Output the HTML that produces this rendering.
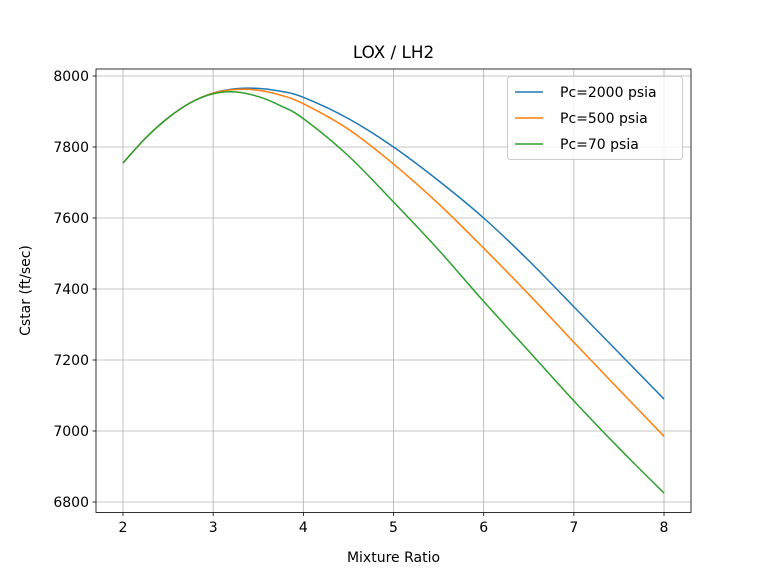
<!DOCTYPE html>
<html><head><style>body{margin:0;background:#fff}svg{display:block}text{font-family:"DejaVu Sans","Liberation Sans",sans-serif;fill:#000}</style></head>
<body>
<svg id="s" width="768" height="576" xmlns="http://www.w3.org/2000/svg">
<rect width="768" height="576" fill="#fff"/>
<g id="grid" stroke="#b0b0b0" stroke-width="0.8"></g>
<g id="curves" fill="none" stroke-width="1.5"></g>
<rect x="96" y="69" width="595" height="443.5" fill="none" stroke="#000" stroke-width="0.8"/>
<g id="ticks" stroke="#000" stroke-width="0.8"></g>
<g id="labels" font-size="14"></g>
<text x="393.5" y="58" font-size="16.8" text-anchor="middle">LOX / LH2</text>
<text x="393.5" y="562" font-size="14" text-anchor="middle">Mixture Ratio</text>
<text transform="translate(30,290.5) rotate(-90)" font-size="14" text-anchor="middle">Cstar (ft/sec)</text>
<g>
<rect x="507.5" y="76.5" width="175" height="83" rx="3" fill="#fff" fill-opacity="0.8" stroke="#ccc"/>
<line x1="515" x2="543" y1="92" y2="92" stroke="#1f77b4" stroke-width="1.5"/>
<line x1="515" x2="543" y1="118" y2="118" stroke="#ff7f0e" stroke-width="1.5"/>
<line x1="515" x2="543" y1="144" y2="144" stroke="#2ca02c" stroke-width="1.5"/>
<text x="560" y="97" font-size="14">Pc=2000 psia</text>
<text x="560" y="123" font-size="14">Pc=500 psia</text>
<text x="560" y="149" font-size="14">Pc=70 psia</text>
</g>
</svg>
<script>
var ns="http://www.w3.org/2000/svg";
function X(v){return 123+(v-2)*90.17}
function Y(v){return 76+(8000-v)*0.355}
function el(p,t,a,txt){var e=document.createElementNS(ns,t);for(var k in a)e.setAttribute(k,a[k]);if(txt)e.textContent=txt;document.getElementById(p).appendChild(e)}
for(var i=2;i<=8;i++){var x=X(i);el('grid','line',{x1:x,x2:x,y1:69,y2:512.5});el('ticks','line',{x1:x,x2:x,y1:512.5,y2:516});el('labels','text',{x:x,y:532,'text-anchor':'middle'},''+i)}
for(var v=6800;v<=8000;v+=200){var y=Y(v);el('grid','line',{x1:96,x2:691,y1:y,y2:y});el('ticks','line',{x1:92.5,x2:96,y1:y,y2:y});el('labels','text',{x:89,y:y+5,'text-anchor':'end'},''+v)}
var xs=[2,2.25,2.5,2.75,3,3.25,3.5,3.75,4,4.5,5,5.5,6,6.5,7,7.5,8];
var S=[
['#1f77b4',[7755,7825,7882,7925,7952,7964,7965,7957,7940,7880,7800,7705,7600,7480,7350,7220,7090]],
['#ff7f0e',[7755,7825,7882,7925,7952,7962,7960,7946,7922,7850,7752,7640,7515,7385,7250,7117,6985]],
['#2ca02c',[7755,7825,7882,7925,7950,7955,7942,7916,7880,7775,7645,7510,7365,7225,7085,6952,6825]]];
S.forEach(function(s){var P=xs.map(function(x,i){return[X(x),Y(s[1][i])]});var d='M'+P[0];
for(var i=0;i<P.length-1;i++){var p0=P[Math.max(i-1,0)],p1=P[i],p2=P[i+1],p3=P[Math.min(i+2,P.length-1)];
d+=' C'+(p1[0]+(p2[0]-p0[0])/6)+','+(p1[1]+(p2[1]-p0[1])/6)+' '+(p2[0]-(p3[0]-p1[0])/6)+','+(p2[1]-(p3[1]-p1[1])/6)+' '+p2[0]+','+p2[1]}
el('curves','path',{d:d,stroke:s[0]})});
</script>
</body></html>
